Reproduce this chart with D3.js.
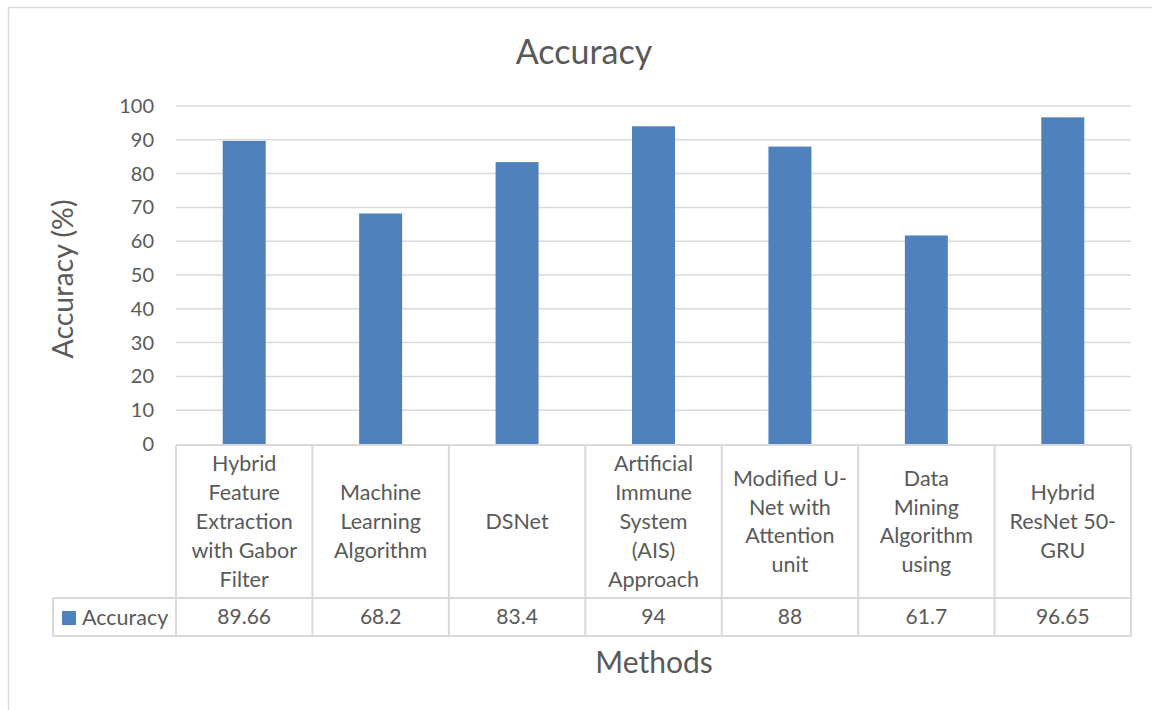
<!DOCTYPE html>
<html><head><meta charset="utf-8">
<script src="https://cdn.jsdelivr.net/npm/d3@7"></script>
<style>body{margin:0;background:#fff}svg{display:block}text{font-family:Lato,"Open Sans",sans-serif;fill:#595959}</style>
</head><body><svg id="c" width="1152" height="710"></svg>
<script>
const categories = [
  ["Hybrid","Feature","Extraction","with Gabor","Filter"],
  ["Machine","Learning","Algorithm"],
  ["DSNet"],
  ["Artificial","Immune","System","(AIS)","Approach"],
  ["Modified U-","Net with","Attention","unit"],
  ["Data","Mining","Algorithm","using"],
  ["Hybrid","ResNet 50-","GRU"]
];
const values = [89.66, 68.2, 83.4, 94, 88, 61.7, 96.65];
const valueLabels = ["89.66","68.2","83.4","94","88","61.7","96.65"];
const yTicks = [0,10,20,30,40,50,60,70,80,90,100];
const seriesName = "Accuracy";

const svg = d3.select("#c");
const grid = "#D9D9D9", blue = "#4F81BD";
svg.append("rect").attr("x",8.5).attr("y",7.5).attr("width",1160).attr("height",720)
  .attr("fill","none").attr("stroke",grid).attr("stroke-width",1.5);

const L = 176, R = 1131, T = 106, B = 444;
const x = d3.scaleBand().domain(d3.range(values.length)).range([L,R]).paddingInner(0).paddingOuter(0);
const y = d3.scaleLinear().domain([0,100]).range([B,T]);

svg.append("g").selectAll("line").data(yTicks.filter(d=>d>0)).join("line")
  .attr("x1",L).attr("x2",R).attr("y1",d=>y(d)).attr("y2",d=>y(d))
  .attr("stroke",grid).attr("stroke-width",1.5);

const ya = svg.append("g").attr("transform",`translate(${L},0)`)
  .call(d3.axisLeft(y).tickValues(yTicks).tickSize(0).tickPadding(22));
ya.select(".domain").remove();
ya.selectAll("text").style("font-size","20px").attr("fill","#595959").style("font-family","Lato,'Open Sans',sans-serif");

const bw = x.bandwidth()*0.315;
svg.append("g").selectAll("rect").data(values).join("rect")
  .attr("x",(d,i)=>x(i)+x.bandwidth()/2-bw/2).attr("width",bw)
  .attr("y",d=>y(d)).attr("height",d=>B-y(d)).attr("fill",blue);

const rowTop = B+1, rowMid = 598, rowBot = 636, legL = 53;
const tg = svg.append("g").attr("stroke",grid).attr("stroke-width",2);
tg.append("line").attr("x1",L).attr("x2",R).attr("y1",rowTop).attr("y2",rowTop);
tg.append("line").attr("x1",legL).attr("x2",R).attr("y1",rowMid).attr("y2",rowMid);
tg.append("line").attr("x1",legL).attr("x2",R).attr("y1",rowBot).attr("y2",rowBot);
tg.append("line").attr("x1",legL).attr("x2",legL).attr("y1",rowMid).attr("y2",rowBot);
const edges = d3.range(values.length+1).map(i=> i<values.length ? x(i) : R);
tg.selectAll(".v").data(edges).join("line").attr("x1",d=>d).attr("x2",d=>d).attr("y1",rowTop).attr("y2",rowBot);

const lh = 28.8;
const cg = svg.append("g");
categories.forEach((lines,i)=>{
  const cx = x(i)+x.bandwidth()/2;
  const cy = (rowTop+rowMid)/2;
  const start = cy - (lines.length-1)*lh/2;
  lines.forEach((t,j)=>{
    cg.append("text").attr("x",cx).attr("y",start+j*lh).attr("dy","0.35em")
      .attr("text-anchor","middle").style("font-size","21.5px").text(t);
  });
});
svg.append("g").selectAll("text").data(valueLabels).join("text")
  .attr("x",(d,i)=>x(i)+x.bandwidth()/2).attr("y",(rowMid+rowBot)/2).attr("dy","0.35em")
  .attr("text-anchor","middle").style("font-size","21px").text(d=>d);
svg.append("rect").attr("x",62).attr("y",611).attr("width",14).attr("height",14).attr("fill",blue);
svg.append("text").attr("x",82).attr("y",(rowMid+rowBot)/2).attr("dy","0.35em").style("font-size","21.5px").text(seriesName);

svg.append("text").attr("x",584).attr("y",52).attr("dy","0.35em").attr("text-anchor","middle")
  .style("font-size","34px").text("Accuracy");
svg.append("text").attr("x",654).attr("y",662).attr("dy","0.35em").attr("text-anchor","middle")
  .style("font-size","30px").text("Methods");
svg.append("text").attr("transform","translate(63,279) rotate(-90)").attr("dy","0.35em").attr("text-anchor","middle")
  .style("font-size","28.5px").text("Accuracy (%)");
</script></body></html>
